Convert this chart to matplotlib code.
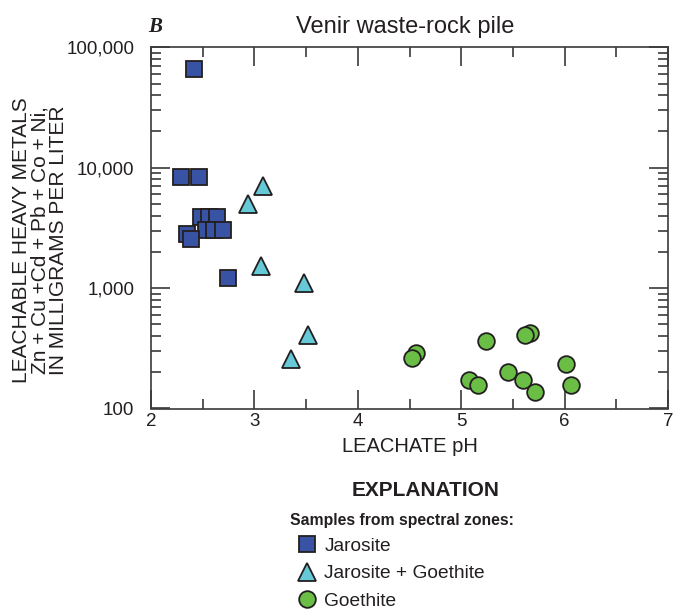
import numpy as np
import matplotlib.pyplot as plt
from matplotlib.ticker import FixedLocator, LogLocator, NullFormatter, FuncFormatter

plt.rcParams['font.family'] = ['Liberation Sans', 'DejaVu Sans']

# Jarosite (squares)
jar_ph = [2.42, 2.29, 2.46, 2.48, 2.56, 2.64, 2.53, 2.61, 2.70, 2.35, 2.39, 2.74]
jar_metals = [66500, 8400, 8400, 3900, 3900, 3900, 3050, 3050, 3050, 2790, 2540, 1210]
# Jarosite + Goethite (triangles)
jg_ph = [3.08, 2.94, 3.06, 3.48, 3.52, 3.35]
jg_metals = [7100, 4950, 1520, 1095, 407, 259]
# Goethite (circles)
goe_ph = [4.56, 4.52, 5.24, 5.08, 5.16, 5.45, 5.67, 5.62, 5.60, 5.71, 6.01, 6.06]
goe_metals = [287, 261, 361, 171, 157, 200, 421, 410, 171, 138, 233, 156]

edge = '#231f20'
fig = plt.figure(figsize=(6.73, 6.12), dpi=100)
ax = fig.add_axes([151/673, (612-408.5)/612, (668-151)/673, (408.5-47.3)/612])

ax.plot(jar_ph, jar_metals, 's', ms=11.5, mfc='#3953a4', mec=edge, mew=1.3,
        ls='none', label='Jarosite')
ax.plot(jg_ph, jg_metals, '^', ms=13, mfc='#66c9d8', mec=edge, mew=1.3,
        ls='none', label='Jarosite + Goethite')
ax.plot(goe_ph, goe_metals, 'o', ms=12, mfc='#6abd45', mec=edge, mew=1.3,
        ls='none', label='Goethite')

ax.set_yscale('log')
ax.set_xlim(2, 7)
ax.set_ylim(100, 100000)
ax.xaxis.set_major_locator(FixedLocator([2, 3, 4, 5, 6, 7]))
ax.xaxis.set_minor_locator(FixedLocator([2.5, 3.5, 4.5, 5.5, 6.5]))
ax.yaxis.set_major_locator(LogLocator(base=10))
ax.yaxis.set_minor_locator(LogLocator(base=10, subs=np.arange(2, 10)))
ax.yaxis.set_minor_formatter(NullFormatter())
ax.yaxis.set_major_formatter(FuncFormatter(lambda v, p: f'{int(round(v)):,}'))
ax.tick_params(which='both', direction='in', top=True, right=True,
               color='#3a3a3a', width=1.2, labelsize=13.5, labelcolor='#231f20')
ax.tick_params(which='major', length=14)
ax.tick_params(which='minor', length=7)
ax.tick_params(axis='x', pad=3)
ax.tick_params(axis='y', pad=12)
for s in ax.spines.values():
    s.set_color('#3a3a3a')
    s.set_linewidth(1.2)

ax.set_xlabel('LEACHATE pH', fontsize=14.5, labelpad=5, color='#231f20')
fig.text(40/673, 1-240/612,
         'LEACHABLE HEAVY METALS\nZn + Cu +Cd + Pb + Co + Ni,\nIN MILLIGRAMS PER LITER',
         rotation=90, ha='center', va='center', multialignment='center',
         fontsize=15, linespacing=0.95, color='#231f20')

fig.text(405/673, 1-27/612, 'Venir waste-rock pile', ha='center', va='center',
         fontsize=17, color='#231f20')
fig.text(155/673, 1-27/612, 'B', ha='center', va='center', fontsize=15,
         family='Liberation Serif', weight='bold', style='italic', color='#231f20')

fig.text(426/673, 1-490/612, 'EXPLANATION', ha='center', va='center',
         fontsize=15, weight='bold', color='#231f20')
fig.text(290/673, 1-520/612, 'Samples from spectral zones:', ha='left', va='center',
         fontsize=11.3, weight='bold', color='#231f20')
leg = fig.legend(loc='upper left', bbox_to_anchor=(288/673, 1-528/612),
                 frameon=False, fontsize=13.8, handletextpad=0.4, labelspacing=0.52,
                 borderpad=0, handlelength=1.0, markerscale=1.0, labelcolor='#231f20')

fig.savefig('out.png', dpi=100)
